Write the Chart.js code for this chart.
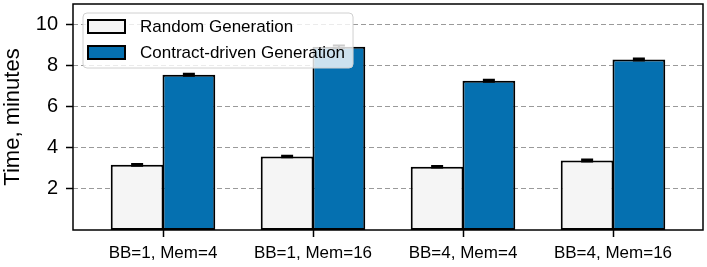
<!DOCTYPE html>
<html>
<head>
<meta charset="utf-8">
<script src="https://cdn.jsdelivr.net/npm/chart.js@4"></script>
<style>
  html, body { margin: 0; padding: 0; background: #fff; }
  #wrap { width: 707px; height: 267px; }
</style>
</head>
<body>
<div id="wrap"><canvas id="timeChart" width="707" height="267"></canvas></div>
<script>
const categories = ['BB=1, Mem=4', 'BB=1, Mem=16', 'BB=4, Mem=4', 'BB=4, Mem=16'];
const seriesNames = ['Random Generation', 'Contract-driven Generation'];
const randomTimes = [3.17, 3.58, 3.08, 3.38];
const randomErrors = [0.04, 0.04, 0.04, 0.05];
const contractTimes = [7.56, 8.92, 7.26, 8.30];
const contractErrors = [0.05, 0.06, 0.05, 0.05];
const yTicks = [2, 4, 6, 8, 10];

const FONT = '"Liberation Sans", Arial, Helvetica, sans-serif';

// error caps drawn from the y scale
const errorBars = {
    id: 'errorBars',
    afterDatasetsDraw(chart) {
        const ctx = chart.ctx;
        const yScale = chart.scales.y;
        ctx.save();
        ctx.strokeStyle = '#000';
        ctx.lineWidth = 2;
        chart.data.datasets.forEach((ds, di) => {
            chart.getDatasetMeta(di).data.forEach((bar, i) => {
                const v = ds.data[i].y, e = ds.errors[i];
                const top = yScale.getPixelForValue(v + e);
                const bot = yScale.getPixelForValue(v - e);
                ctx.beginPath();
                ctx.moveTo(bar.x, top); ctx.lineTo(bar.x, bot);
                ctx.moveTo(bar.x - 6, top); ctx.lineTo(bar.x + 6, top);
                ctx.moveTo(bar.x - 6, bot); ctx.lineTo(bar.x + 6, bot);
                ctx.stroke();
            });
        });
        ctx.restore();
    }
};

// full box around the plot area, x tick marks, legend inside the box
const frameAndLegend = {
    id: 'frameAndLegend',
    afterDraw(chart) {
        const { ctx, chartArea } = chart;
        const xScale = chart.scales.x;
        ctx.save();
        ctx.strokeStyle = '#000';
        ctx.lineWidth = 1.5;
        ctx.strokeRect(chartArea.left, chartArea.top, chartArea.right - chartArea.left, chartArea.bottom - chartArea.top);

        ctx.beginPath();
        categories.forEach((c, i) => {
            const px = Math.round(xScale.getPixelForValue(i)) + 0.5;
            ctx.moveTo(px, chartArea.bottom);
            ctx.lineTo(px, chartArea.bottom + 7);
        });
        ctx.stroke();

        ctx.font = '17px ' + FONT;
        const textW = Math.max(...chart.data.datasets.map(ds => ctx.measureText(ds.label).width));
        const x = chartArea.left + 10, y = chartArea.top + 9;
        const w = 57 + textW + 8, h = 55;
        ctx.beginPath();
        ctx.roundRect(x, y, w, h, 4);
        ctx.fillStyle = 'rgba(255,255,255,0.8)';
        ctx.fill();
        ctx.strokeStyle = '#d0d0d0';
        ctx.lineWidth = 1;
        ctx.stroke();

        chart.data.datasets.forEach((ds, i) => {
            const cy = y + 13.5 + i * 26;
            ctx.fillStyle = ds.backgroundColor;
            ctx.fillRect(x + 5, cy - 6.5, 37, 13);
            ctx.strokeStyle = '#000';
            ctx.lineWidth = 2;
            ctx.strokeRect(x + 5, cy - 6.5, 37, 13);
            ctx.fillStyle = '#000';
            ctx.textBaseline = 'middle';
            ctx.fillText(ds.label, x + 57, cy + 1);
        });
        ctx.restore();
    }
};

new Chart(document.getElementById('timeChart').getContext('2d'), {
    type: 'bar',
    data: {
        datasets: [{
            label: seriesNames[0],
            data: randomTimes.map((v, i) => ({ x: i, y: v })),
            errors: randomErrors,
            backgroundColor: '#f5f5f5',
            borderColor: '#000',
            borderWidth: 2,
            borderSkipped: false
        }, {
            label: seriesNames[1],
            data: contractTimes.map((v, i) => ({ x: i, y: v })),
            errors: contractErrors,
            backgroundColor: '#0570b0',
            borderColor: '#000',
            borderWidth: 2,
            borderSkipped: false
        }]
    },
    options: {
        responsive: false,
        animation: false,
        categoryPercentage: 0.69,
        barPercentage: 1.02,
        layout: { padding: { top: 4, right: 4, left: 0, bottom: 0 } },
        plugins: { legend: { display: false }, tooltip: { enabled: false } },
        scales: {
            x: {
                type: 'linear',
                min: -0.6,
                max: 3.6,
                offset: false,
                afterBuildTicks: s => { s.ticks = categories.map((c, i) => ({ value: i })); },
                afterFit: s => { s.height = 37; s.paddingLeft = 0; s.paddingRight = 0; },
                ticks: {
                    callback: v => categories[v],
                    autoSkip: false,
                    maxRotation: 0,
                    color: '#000',
                    padding: 13,
                    font: { family: FONT, size: 17 }
                },
                grid: { offset: false, drawOnChartArea: false, drawTicks: false, tickLength: 7 },
                border: { display: false }
            },
            y: {
                min: 0,
                max: 11,
                afterBuildTicks: s => { s.ticks = yTicks.map(v => ({ value: v })); },
                afterFit: s => { s.width = 73; s.paddingTop = 0; s.paddingBottom = 0; },
                ticks: {
                    color: '#000',
                    padding: 8,
                    font: { family: FONT, size: 20 }
                },
                grid: { color: '#9a9a9a', lineWidth: 1, tickLength: 7, tickColor: '#000', tickWidth: 1.5, tickBorderDash: [] },
                border: { display: false, dash: [5, 3] },
                title: {
                    display: true,
                    text: 'Time, minutes',
                    color: '#000',
                    padding: { top: 0, bottom: 0 },
                    font: { family: FONT, size: 22 }
                }
            }
        }
    },
    plugins: [errorBars, frameAndLegend]
});
</script>
</body>
</html>
